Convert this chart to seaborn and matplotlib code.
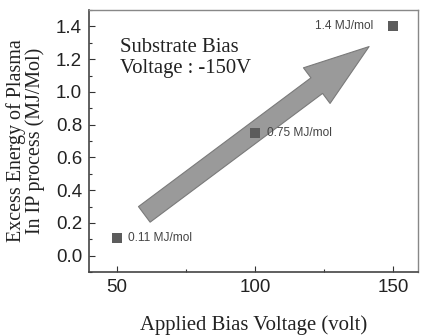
import matplotlib
matplotlib.use("Agg")
import matplotlib.pyplot as plt
import seaborn as sns
import pandas as pd
from matplotlib.ticker import MultipleLocator

bias_voltage = [50, 100, 150]
excess_energy = [0.11, 0.75, 1.4]
point_labels = ["0.11 MJ/mol", "0.75 MJ/mol", "1.4 MJ/mol"]
x_ticks = [50, 100, 150]
y_ticks = [0.0, 0.2, 0.4, 0.6, 0.8, 1.0, 1.2, 1.4]

sns.set_theme(style="white")
plt.rcParams["font.family"] = ["Liberation Sans", "DejaVu Sans"]

df = pd.DataFrame({"x": bias_voltage, "y": excess_energy})

fig = plt.figure(figsize=(4.21, 3.35), dpi=100)
ax = fig.add_axes([0.2114, 0.188, 0.7815, 0.782])

# arrow (drawn first so it sits under markers)
ax.annotate("", xy=(141.3, 1.277), xytext=(60, 0.252),
            arrowprops=dict(arrowstyle="simple,head_length=4.7,head_width=3.2,tail_width=1.4",
                            mutation_scale=10, fc="#9a9a9a", ec="#7a7a7a", lw=0.8,
                            shrinkA=0, shrinkB=0))

sns.scatterplot(data=df, x="x", y="y", marker="s", s=55, color="#5c5c5c",
                edgecolor="#5c5c5c", linewidth=0, ax=ax, zorder=5)

pt_texts = []
for xv, yv, lab in zip(bias_voltage, excess_energy, point_labels):
    if xv == bias_voltage[-1]:
        t = ax.annotate(lab, (xv, yv), xytext=(-14, 0), textcoords="offset points",
                        ha="right", va="center", fontsize=8.5, color="#444444")
    else:
        t = ax.annotate(lab, (xv, yv), xytext=(8.5, 0), textcoords="offset points",
                        ha="left", va="center", fontsize=8.5, color="#444444")
    pt_texts.append(t)

note = ax.text(51.3, 1.205, "Substrate Bias\nVoltage : -150V", family=["Liberation Serif"],
               fontsize=14.5, ha="left", va="center", linespacing=1.15, color="#222222")

ax.set_xlim(40, 159)
ax.set_ylim(-0.1, 1.5)
ax.set_xticks(x_ticks)
ax.set_yticks(y_ticks)
ax.xaxis.set_minor_locator(MultipleLocator(25))
ax.yaxis.set_minor_locator(MultipleLocator(0.1))
ax.tick_params(axis="both", which="major", direction="in", length=4, width=0.8,
               labelsize=13.5, colors="#333333", labelcolor="#222222", pad=5)
ax.tick_params(axis="both", which="minor", direction="in", length=2.5, width=0.8,
               colors="#333333")
ax.tick_params(bottom=True, left=True, which="both")

for side in ["left", "bottom"]:
    ax.spines[side].set_color("#444444")
    ax.spines[side].set_linewidth(1.2)
for side in ["top", "right"]:
    ax.spines[side].set_color("#888888")
    ax.spines[side].set_linewidth(1.0)

xl = ax.set_xlabel("Applied Bias Voltage (volt)", family=["Liberation Serif"], fontsize=14.8,
                   color="#222222", labelpad=14)
yl = ax.set_ylabel("Excess Energy of Plasma\nIn IP process (MJ/Mol)", family=["Liberation Serif"],
                   fontsize=12.4, color="#222222", labelpad=8, linespacing=0.9)

# scale text sizes so their rendered extents match the reference (pixels)
def fit(artist, target, use_height=False):
    fig.canvas.draw()
    bb = artist.get_window_extent(fig.canvas.get_renderer())
    cur = bb.height if use_height else bb.width
    if cur > 0:
        artist.set_fontsize(artist.get_fontsize() * target / cur)

fit(xl, 227)
fit(yl, 203, use_height=True)
fit(note, 131)
fit(pt_texts[0], 64)
sz = pt_texts[0].get_fontsize()
for t in pt_texts[1:]:
    t.set_fontsize(sz)

fig.savefig("out.png", dpi=100)
